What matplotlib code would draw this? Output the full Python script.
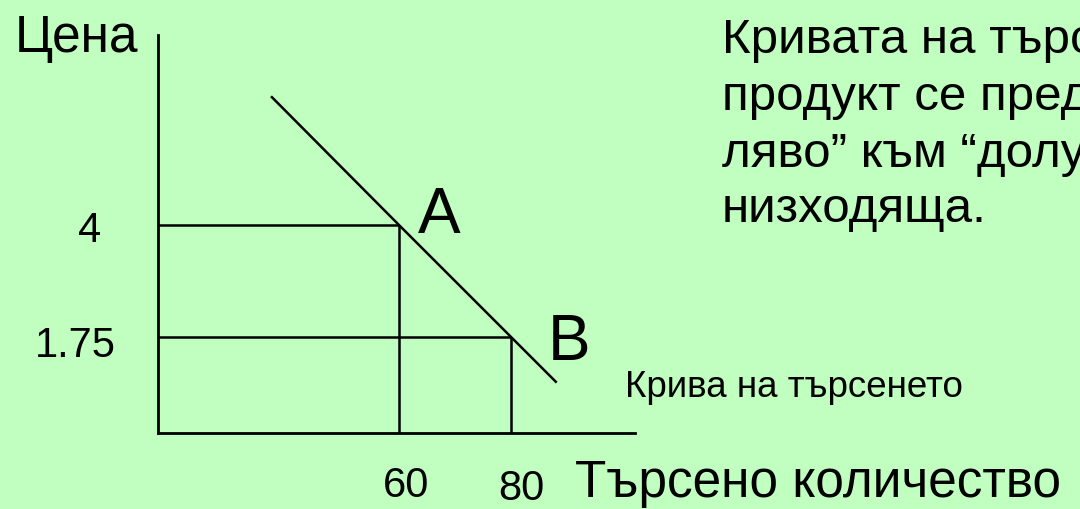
import matplotlib
matplotlib.use("Agg")
import matplotlib.pyplot as plt

# --- data ---
points = ["A", "B"]
quantity = [60, 80]          # Търсено количество
price = [4, 1.75]            # Цена
price_labels = ["4", "1.75"]
quantity_labels = ["60", "80"]
demand_q = [37.3, 60, 80, 88.0]
demand_p = [6.57, 4, 1.75, 0.85]
note_lines = ["Кривата на търсенето за даден",
              "продукт се представя от “горе",
              "ляво” към “долу дясно”, т.е. е",
              "низходяща."]

BG = "#C0FFC0"
W, H = 1080, 509
plt.rcParams['font.family'] = ['Liberation Sans', 'DejaVu Sans']

fig = plt.figure(figsize=(W / 100, H / 100), dpi=100, facecolor=BG)
ax = fig.add_axes([158 / W, (H - 433) / H, (635 - 158) / W, (433 - 35) / H])
ax.set_facecolor(BG)
ax.set_xlim(16.96, 102.14)
ax.set_ylim(-0.18, 7.82)
for s in ["top", "right"]:
    ax.spines[s].set_visible(False)
for s in ["left", "bottom"]:
    ax.spines[s].set_linewidth(2)
    ax.spines[s].set_color("black")
ax.set_xticks([])
ax.set_yticks([])

x0, y0 = ax.get_xlim()[0], ax.get_ylim()[0]
for q, p in zip(quantity, price):
    ax.plot([x0, q], [p, p], color="black", lw=1.8, solid_capstyle="butt", clip_on=False)
    ax.plot([q, q], [y0, p], color="black", lw=1.8, solid_capstyle="butt", clip_on=False)
ax.plot(demand_q, demand_p, color="black", lw=1.8, clip_on=False)


def ftext(x, y, s, size, **kw):
    fig.text(x / W, 1 - y / H, s, fontsize=size, va="baseline", ha="left", color="black", **kw)


ftext(15, 52, "Цена", 37)
ftext(418, 233, points[0], 46)
ftext(548, 360, points[1], 46)
ftext(78, 242, price_labels[0], 30)
ftext(35, 357, price_labels[1], 30)
ftext(383, 497, quantity_labels[0], 30)
ftext(498, 500, quantity_labels[1], 30)
ftext(575, 497, "Търсено количество", 37)
ftext(625, 397, "Крива на търсенето", 26.5)
for i, line in enumerate(note_lines):
    ftext(722, [53, 110, 167, 222][i], line, 35.5)

fig.savefig("out.png", dpi=100, facecolor=BG)
